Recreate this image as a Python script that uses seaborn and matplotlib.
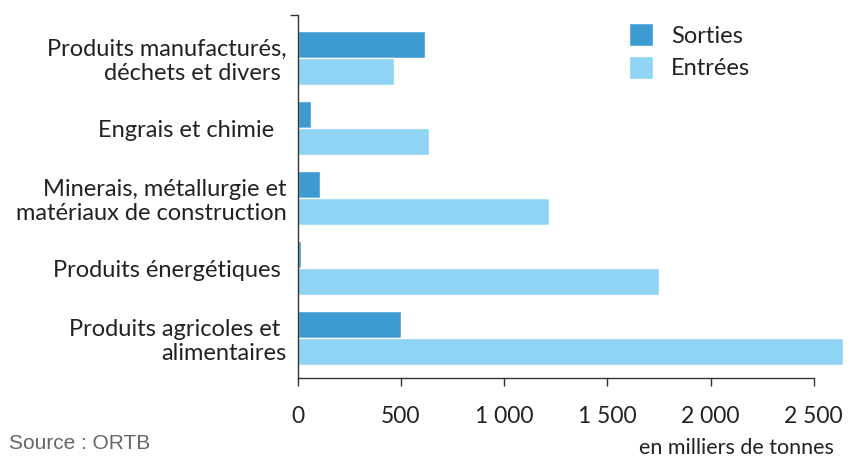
import numpy as np
import pandas as pd
import matplotlib
matplotlib.use("Agg")
import matplotlib.pyplot as plt
import seaborn as sns

categories = [
    "Produits manufacturés,\ndéchets et divers ",
    "Engrais et chimie  ",
    "Minerais, métallurgie et\nmatériaux de construction",
    "Produits énergétiques ",
    "Produits agricoles et \nalimentaires",
]
sorties = [616, 63, 107, 15, 500]
entrees = [466, 636, 1218, 1752, 2640]
series = ["Sorties", "Entrées"]
xticks = [0, 500, 1000, 1500, 2000, 2500]
xticklabels = ["0", "500", "1 000", "1 500", "2 000", "2 500"]

df = pd.DataFrame({
    "cat": categories * 2,
    "val": sorties + entrees,
    "serie": [series[0]] * 5 + [series[1]] * 5,
})

sns.set_theme(style="white")
plt.rcParams["font.family"] = ["Lato", "DejaVu Sans"]

fig = plt.figure(figsize=(8.53, 4.62), dpi=100)
ax = fig.add_axes([0.349, 0.182, 0.605, 0.786])

sns.barplot(data=df, y="cat", x="val", hue="serie", orient="h", width=0.77,
            palette=["#3d9bd1", "#8fd4f4"], saturation=1, ax=ax, errorbar=None)
for p in ax.patches:
    p.set_clip_on(False)

ax.set_xlim(0, 2500)
ax.set_ylim(4.57, -0.62)
ax.set_xlabel("")
ax.set_ylabel("")
ax.set_xticks(xticks)
ax.set_xticklabels(xticklabels, fontsize=16.5, color="#222222")
ax.tick_params(axis="x", direction="out", length=6, width=1, color="#333333",
               pad=14, bottom=True)
ax.tick_params(axis="y", length=0, pad=8, labelsize=17, labelcolor="#222222")
ax.set_yticks(range(len(categories)))
ax.set_yticklabels(categories, ha="right", multialignment="right",
                   linespacing=1.15)
ax.set_yticks([-0.62], minor=True)
ax.tick_params(axis="y", which="minor", direction="out", length=6, width=1,
               color="#333333", left=True)

for s in ["top", "right"]:
    ax.spines[s].set_visible(False)
for s in ["left", "bottom"]:
    ax.spines[s].set_color("#333333")
    ax.spines[s].set_linewidth(1)

leg = ax.legend(loc="upper left", bbox_to_anchor=(0.6, 1.035), frameon=False,
                fontsize=17, handlelength=1.05, handleheight=1.1,
                handletextpad=0.75, labelspacing=0.4)
for t in leg.get_texts():
    t.set_color("#222222")

fig.text(0.978, 0.008, "en milliers de tonnes", ha="right", va="bottom",
         fontsize=15.5, color="#222222")
fig.text(0.01, 0.02, "Source : ORTB", ha="left", va="bottom", fontsize=15,
         color="#666666", family=["Liberation Sans", "DejaVu Sans"])

fig.savefig("out.png", dpi=100)
